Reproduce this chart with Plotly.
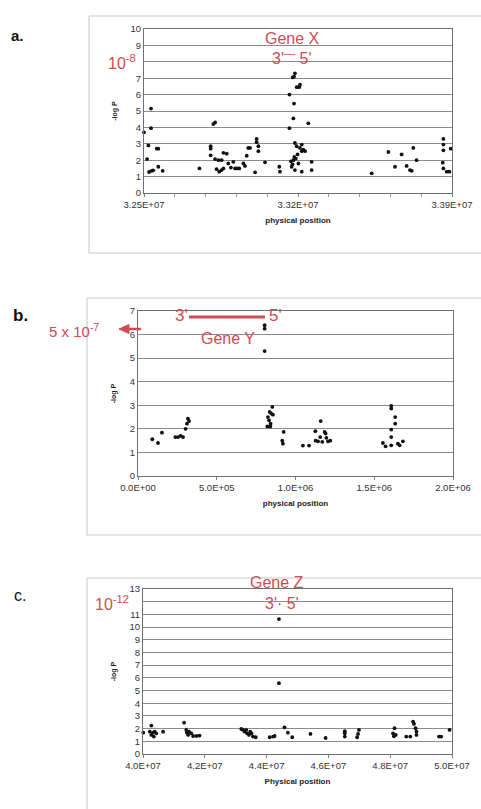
import plotly.graph_objects as go

# ---------------- data ----------------
# Panel a (Gene X region)
pos_a = [32500000, 32532000, 32532000, 32520000, 32514000, 32523000, 32535000, 32542000, 32558000, 32565000,
         32565000, 32585000, 32752000, 32803000, 32803000, 32815000, 32823000, 32803000, 32823000, 32838000,
         32853000, 32842000, 32853000, 32861000, 32861000, 32876000, 32883000, 32906000, 32914000, 32924000,
         32933000, 32952000, 32959000, 32967000, 32974000, 32982000, 33005000, 33012000, 33012000, 33020000,
         33020000, 33050000, 33115000, 33118000, 33161000, 33161000, 33168000, 33171000, 33179000, 33183000,
         33186000, 33176000, 33182000, 33186000, 33179000, 33182000, 33194000, 33205000, 33209000, 33186000,
         33194000, 33202000, 33209000, 33217000, 33217000, 33224000, 33232000, 33217000, 33247000, 33262000,
         33262000, 33535000, 33611000, 33641000, 33671000, 33694000, 33709000, 33717000, 33724000, 33739000,
         33861000, 33861000, 33861000, 33858000, 33861000, 33876000, 33888000, 33894000, 33175000, 33190000,
         33198000, 32830000, 32895000]
logp_a = [3.7, 5.15, 3.95, 2.9, 2.07, 1.28, 1.35, 1.38, 2.7, 2.7,
          1.6, 1.35, 1.5, 2.85, 2.7, 4.2, 4.3, 2.3, 2.07, 2.0,
          2.0, 1.3, 1.4, 1.5, 2.45, 2.4, 1.8, 1.9, 1.5, 1.5,
          1.5, 1.8, 1.65, 2.27, 2.75, 2.75, 1.26, 3.3, 3.1, 2.85,
          2.55, 1.87, 1.6, 1.3, 3.95, 6.0, 1.93, 1.6, 2.0, 2.2,
          1.4, 7.05, 7.1, 7.3, 4.55, 5.45, 6.45, 6.45, 6.6, 3.05,
          2.85, 1.8, 2.75, 2.95, 2.55, 2.65, 2.55, 1.3, 4.25, 1.9,
          1.4, 1.2, 2.5, 1.6, 2.35, 1.65, 1.4, 1.35, 2.75, 2.0,
          3.3, 2.95, 2.6, 1.85, 1.5, 1.3, 1.3, 2.7, 1.75, 2.1,
          2.35, 1.45, 1.55]

# Panel b (Gene Y region)
pos_b = [91000, 127000, 152000, 237000, 254000, 271000, 286000, 302000, 311000, 317000,
         324000, 804000, 804000, 804000, 821000, 825000, 832000, 836000, 840000, 842000,
         846000, 853000, 857000, 916000, 920000, 925000, 1047000, 1086000, 1126000, 1128000,
         1143000, 1157000, 1160000, 1170000, 1185000, 1191000, 1196000, 1206000, 1221000, 1555000,
         1572000, 1608000, 1608000, 1608000, 1608000, 1608000, 1633000, 1633000, 1650000, 1661000,
         1682000]
logp_b = [1.56, 1.4, 1.84, 1.65, 1.65, 1.7, 1.65, 2.0, 2.22, 2.43,
          2.33, 6.25, 6.4, 5.3, 2.1, 2.5, 2.36, 2.72, 2.1, 2.22,
          2.65, 2.93, 2.6, 1.5, 1.37, 1.87, 1.29, 1.29, 1.9, 1.5,
          1.47, 1.65, 2.33, 1.45, 1.87, 1.8, 1.62, 1.47, 1.5, 1.4,
          1.26, 2.97, 2.86, 1.97, 1.65, 1.3, 2.5, 2.22, 1.37, 1.3,
          1.47]

# Panel c (Gene Z region)
pos_c = [40010000, 40270000, 40220000, 40270000, 40320000, 40380000, 40350000, 40430000, 40650000, 41330000,
         41400000, 41420000, 41490000, 41460000, 41560000, 41620000, 41730000, 41830000, 43180000, 43240000,
         43290000, 43340000, 43370000, 43430000, 43470000, 43510000, 43560000, 43650000, 44100000, 44210000,
         44260000, 44400000, 44400000, 44580000, 44690000, 44830000, 45420000, 45910000, 46530000, 46530000,
         46530000, 46990000, 46960000, 46930000, 48140000, 48090000, 48180000, 48120000, 48520000, 48650000,
         48740000, 48770000, 48820000, 48850000, 48850000, 49580000, 49650000, 49920000]
logp_c = [1.68, 2.24, 1.76, 1.5, 1.68, 1.76, 1.37, 1.63, 1.76, 2.47,
          1.9, 1.68, 1.76, 1.5, 1.63, 1.42, 1.42, 1.45, 1.97, 1.9,
          1.76, 1.9, 1.63, 1.5, 1.76, 1.63, 1.37, 1.32, 1.32, 1.37,
          1.42, 10.63, 5.58, 2.1, 1.68, 1.32, 1.58, 1.26, 1.63, 1.37,
          1.8, 1.9, 1.58, 1.32, 2.03, 1.63, 1.5, 1.4, 1.37, 1.37,
          2.55, 2.37, 2.03, 1.76, 1.5, 1.37, 1.37, 1.9]

xticks_a = [32500000, 33200000, 33900000]
xlabels_a = ["3.25E+07", "3.32E+07", "3.39E+07"]
xticks_b = [0, 500000, 1000000, 1500000, 2000000]
xlabels_b = ["0.0E+00", "5.0E+05", "1.0E+06", "1.5E+06", "2.0E+06"]
xticks_c = [40000000, 42000000, 44000000, 46000000, 48000000, 50000000]
xlabels_c = ["4.0E+07", "4.2E+07", "4.4E+07", "4.6E+07", "4.8E+07", "5.0E+07"]
# labelled y ticks (8 in panel a and 12 in panel c are hidden behind the red p-value notes)
yticks_a = [0, 1, 2, 3, 4, 5, 6, 7, 9, 10]
yticks_b = [0, 1, 2, 3, 4, 5, 6, 7]
yticks_c = [0, 1, 2, 3, 4, 5, 6, 7, 8, 9, 10, 11, 13]

gene_y_start = 324000
gene_y_end = 806000
gene_y_level = 6.75

# ---------------- figure ----------------
W, H = 481, 809
RED = "#d24b52"
TICKFONT = dict(family="Liberation Sans", size=9.5, color="#333333")
TITLEFONT = dict(family="Liberation Sans", size=8, color="#222222")
GRID = "#8c8c8c"


def px(x):
    return x / W


def py(y):
    return 1 - y / H


fig = go.Figure()
for xs, ys, xa, ya in [(pos_a, logp_a, "x", "y"), (pos_b, logp_b, "x2", "y2"), (pos_c, logp_c, "x3", "y3")]:
    fig.add_trace(go.Scatter(x=xs, y=ys, mode="markers", xaxis=xa, yaxis=ya,
                             marker=dict(color="#111111", size=3.8), cliponaxis=False,
                             showlegend=False, hoverinfo="x+y"))


def xax(domain, rng, tv, tt, title, anchor, minor=None):
    d = dict(domain=domain, range=rng, tickmode="array", tickvals=tv, ticktext=tt, anchor=anchor,
             automargin=False,
             showline=True, linecolor="#707070", linewidth=1, mirror=True,
             showgrid=False, zeroline=False, ticks="outside", ticklen=3, tickcolor="#808080",
             tickfont=TICKFONT, title=dict(text="<b>" + title + "</b>", font=TITLEFONT, standoff=7))
    if minor:
        d["minor"] = minor
    return d


def yax(domain, rng, tv, anchor):
    return dict(domain=domain, range=rng, tickmode="array", tickvals=tv, ticktext=[str(v) for v in tv],
                anchor=anchor, automargin=False,
                showline=True, linecolor="#707070", linewidth=1, mirror=True,
                showgrid=True, gridcolor=GRID, gridwidth=1, zeroline=False,
                minor=dict(dtick=1, tick0=0, showgrid=True, gridcolor=GRID, gridwidth=1, ticks=""),
                ticks="", tickfont=TICKFONT,
                title=dict(text="<b>-log P</b>", font=dict(family="Liberation Sans", size=7, color="#222"),
                           standoff=12))


fig.update_layout(
    width=W, height=H, margin=dict(l=0, r=0, t=0, b=0, autoexpand=False),
    paper_bgcolor="white", plot_bgcolor="white",
    xaxis=xax([px(144), px(452)], [32500000, 33900000], xticks_a, xlabels_a, "physical position", "y",
              minor=dict(ticks="outside", ticklen=3, tickcolor="#9a9a9a", dtick=140000, tick0=32500000,
                         showgrid=False)),
    yaxis=yax([py(193), py(29)], [0, 10], yticks_a, "x"),
    xaxis2=xax([px(138), px(453)], [0, 2000000], xticks_b, xlabels_b, "physical position", "y2"),
    yaxis2=yax([py(476), py(311)], [0, 7], yticks_b, "x2"),
    xaxis3=xax([px(143), px(452)], [40000000, 50000000], xticks_c, xlabels_c, "Physical position", "y3"),
    yaxis3=yax([py(754), py(589)], [0, 13], yticks_c, "x3"),
)

# outer chart boxes
for x0, y0, y1 in [(89, 253, 16), (87, 535, 298), (87, 815, 578)]:
    fig.add_shape(type="rect", xref="paper", yref="paper", x0=px(x0), x1=px(490), y0=py(y0), y1=py(y1),
                  line=dict(color="#c8c8c8", width=1), fillcolor="rgba(0,0,0,0)", layer="below")

# gene Y bar
fig.add_shape(type="line", xref="x2", yref="y2", x0=gene_y_start, x1=gene_y_end,
              y0=gene_y_level, y1=gene_y_level, line=dict(color=RED, width=3))

# red arrow (panel b), pointing left
fig.add_shape(type="line", xref="paper", yref="paper", x0=px(127), x1=px(141), y0=py(329), y1=py(329),
              line=dict(color=RED, width=2.5))
fig.add_shape(type="path", xref="paper", yref="paper",
              path="M %f,%f L %f,%f L %f,%f Z" % (px(119), py(329), px(129), py(324.5), px(129), py(333.5)),
              line=dict(color=RED, width=1), fillcolor=RED)


def txt(x, y, s, size=16, color=RED, bold=False, family="Liberation Sans"):
    fig.add_annotation(x=px(x), y=py(y), xref="paper", yref="paper", text=("<b>%s</b>" % s) if bold else s,
                       showarrow=False, font=dict(family=family, size=size, color=color),
                       xanchor="center", yanchor="middle")


# panel letters
txt(17, 35, "a.", size=15, color="#111", bold=True)
txt(20, 315, "b.", size=17, color="#111", bold=True)
txt(20, 595, "c.", size=16, color="#111")

# panel a annotations
txt(292, 39, "Gene X", size=16)
txt(292, 57, "3'<sup>—</sup> 5'", size=16)
txt(122, 62, "10<sup>-8</sup>", size=16)

# panel b annotations
txt(181, 315, "3'", size=17)
txt(275, 315, "5'", size=17)
txt(228, 338, "Gene Y", size=16)
txt(74, 330, "5 x 10<sup>-7</sup>", size=15)

# panel c annotations
txt(277, 582, "Gene Z", size=16)
txt(282, 603, "3'· 5'", size=16)
txt(112, 603, "10<sup>-12</sup>", size=16)

fig.write_html("out.html", config={"displayModeBar": False},
               post_script="document.body.style.margin='0';document.body.style.overflow='hidden';")
